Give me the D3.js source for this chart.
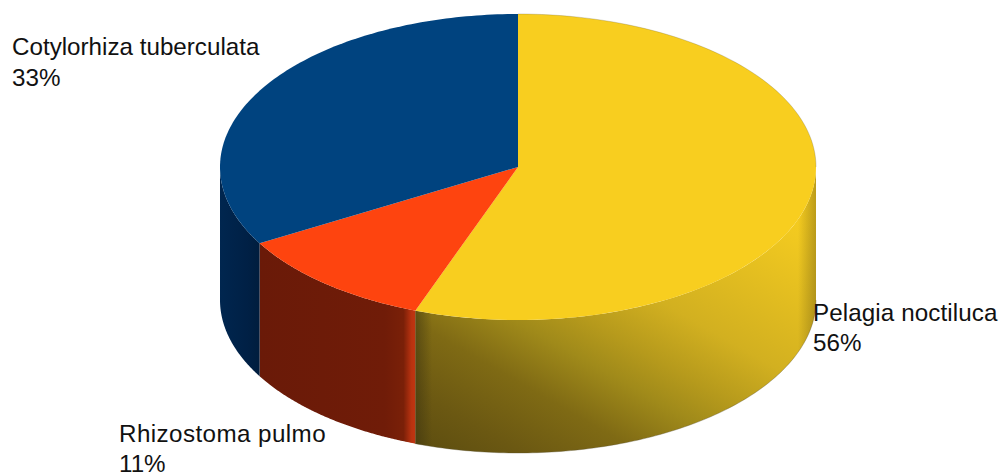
<!DOCTYPE html>
<html><head><meta charset="utf-8"><script src="https://cdn.jsdelivr.net/npm/d3@7"></script>
<style>html,body{margin:0;padding:0;background:#fff}svg{display:block}text{font-family:"Liberation Sans",Arial,sans-serif;font-size:24.2px;fill:#111}</style></head><body>
<svg id="c" width="1002" height="473"></svg>
<script>
const species=["Pelagia noctiluca","Rhizostoma pulmo","Cotylorhiza tuberculata"];
const shares=[55.6,11.1,33.3];
const percentLabels=["56%","11%","33%"];
const topColors=["#f8ce1f","#fe440f","#00437f"];
const svg=d3.select("#c");
const cx=518,cy=167,rx=298,ry=153,depth=133;
const pie=d3.pie().sort(null).value(d=>d);
const arcs=pie(shares);
const X=d3.scaleLinear().domain([-1,1]).range([cx-rx,cx+rx]);
const Y=d3.scaleLinear().domain([-1,1]).range([cy-ry,cy+ry]);
const px=a=>X(Math.sin(a)),py=(a,h=0)=>Y(-Math.cos(a))+h;
const line=d3.line();
const sample=(a0,a1,h)=>d3.range(0,121).map(i=>{const a=a0+(a1-a0)*i/120;return [px(a),py(a,h)];});
const defs=svg.append("defs");
function grad(id,attrs,stops){const g=defs.append("linearGradient").attr("id",id).attr("gradientUnits","userSpaceOnUse");
 Object.entries(attrs).forEach(([k,v])=>g.attr(k,v));
 stops.forEach(s=>g.append("stop").attr("offset",s[0]).attr("stop-color",s[1]).attr("stop-opacity",s[2]===undefined?1:s[2]));}
grad("sideY",{x1:470,y1:470,x2:670,y2:122},[[0,"#5f4f10"],[0.1,"#6b5812"],[0.25,"#7f6a14"],[0.38,"#a08a1a"],[0.47,"#b69a1c"],[0.6,"#d2b020"],[0.9,"#f0c820"],[1,"#f8ce1f"]]);
grad("sideR",{x1:260,y1:0,x2:416,y2:0},[[0,"#6a1a08"],[0.8,"#701c08"],[0.92,"#7a2008"],[0.97,"#b83210"],[1,"#c23610"]]);
grad("sideB",{x1:220,y1:0,x2:260,y2:0},[[0,"#00264f"],[0.7,"#002045"],[1,"#001d3d"]]);
grad("shadeL",{x1:416,y1:0,x2:432,y2:0},[[0,"#3a3210",.5],[1,"#3a3210",0]]);
grad("shadeR",{x1:817,y1:0,x2:798,y2:0},[[0,"#5a4a10",.4],[1,"#5a4a10",0]]);
const sideIds=["sideY","sideR","sideB"];
const lo=Math.PI/2,hi=3*Math.PI/2;
svg.append("g").selectAll("path").data(arcs).join("path")
 .attr("fill",(d,i)=>`url(#${sideIds[i]})`)
 .attr("d",d=>{const a0=Math.max(d.startAngle,lo),a1=Math.min(d.endAngle,hi);
   return line([...sample(a0,a1,0),...sample(a1,a0,depth)])+"Z";});
const yw=arcs[0];
const ywd=line([...sample(lo,yw.endAngle,0),...sample(yw.endAngle,lo,depth)])+"Z";
svg.append("path").attr("d",ywd).attr("fill","url(#shadeL)");
svg.append("path").attr("d",ywd).attr("fill","url(#shadeR)");
svg.append("g").selectAll("path").data(arcs).join("path")
 .attr("fill",(d,i)=>topColors[i])
 .attr("d",d=>line([[cx,cy],...sample(d.startAngle,d.endAngle,0)])+"Z");
svg.append("path").attr("fill","none").attr("stroke","#5a5030").attr("stroke-opacity",.4).attr("stroke-width",.6)
 .attr("d",line(sample(0,lo,0)));
svg.append("path").attr("fill","none").attr("stroke","#5a5030").attr("stroke-opacity",.5).attr("stroke-width",.7)
 .attr("d",line(sample(lo,yw.endAngle,depth)));
const labelAnchors=[[813,320.7],[119,441.7],[12,55]];
const labelTracking=[0.1,0.42,0];
const lab=svg.append("g").selectAll("text").data(species).join("text")
 .attr("x",(d,i)=>labelAnchors[i][0]).attr("y",(d,i)=>labelAnchors[i][1]);
lab.append("tspan").attr("letter-spacing",(d,i)=>labelTracking[i]).text(d=>d);
lab.append("tspan").attr("x",(d,i)=>labelAnchors[i][0]).attr("dy",30.5).text((d,i)=>percentLabels[i]);
</script></body></html>
